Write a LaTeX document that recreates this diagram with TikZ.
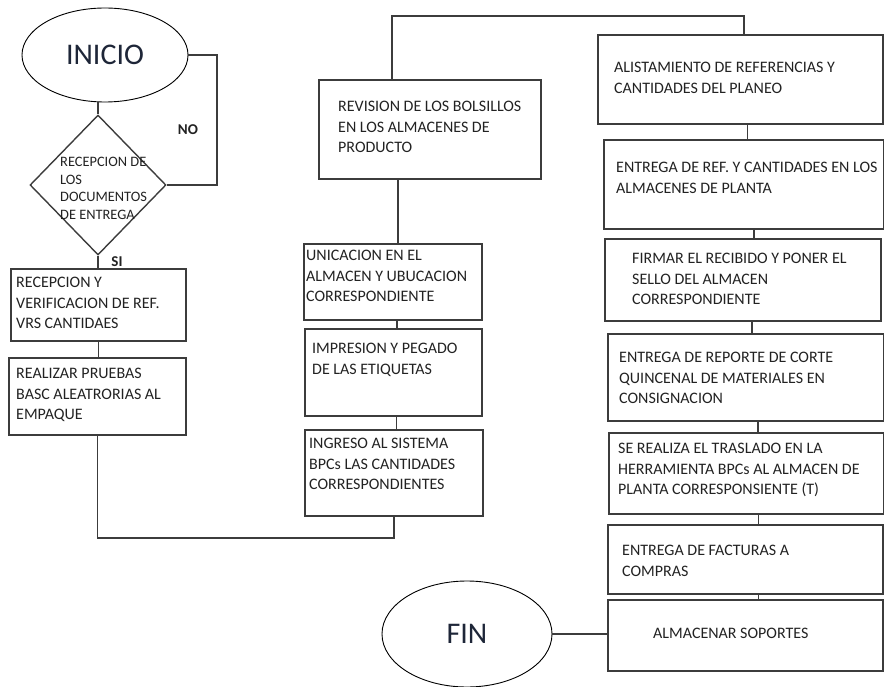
\documentclass[tikz,border=0pt]{standalone}
\usepackage{fontspec}
\setmainfont{Carlito}
\usetikzlibrary{shapes.geometric,positioning}
\definecolor{linea}{HTML}{3C3C3C}
\definecolor{texto}{HTML}{222222}
\definecolor{titulo}{HTML}{1E2638}

\begin{document}
\begin{tikzpicture}[
    x=1pt, y=-1pt,
    caja/.style={draw=linea, line width=1.6pt, anchor=north west, inner sep=0pt},
    txt/.style={anchor=north west, align=left, inner sep=0pt, text=texto,
      font=\fontsize{16}{20.5}\selectfont},
    terminal/.style={ellipse, draw=black, line width=0.9pt, inner sep=0pt,
      text=titulo, font=\fontsize{30}{30}\selectfont},
    flujo/.style={draw=linea, line width=1.6pt},
    etq/.style={text=texto, font=\fontsize{15}{15}\selectfont\bfseries, inner sep=0pt}
  ]
    \useasboundingbox (0,0) rectangle (884,687);
    % Inicio y decision
    \node[terminal, minimum width=166, minimum height=94] (inicio) at (105,55) {INICIO};
    \node[diamond, draw=linea, line width=1.4pt, minimum width=136, minimum height=140,
          inner sep=0pt] (rombo) at (98,185) {};
    \node[txt, font=\fontsize{14.4}{17.7}\selectfont] (rombo-t) at (60,157)
          {RECEPCION DE\\LOS\\DOCUMENTOS\\DE ENTREGA};
    \draw[flujo] (inicio.south -| rombo.north) -- (rombo.north);
    \draw[flujo] (rombo.east) -- ++(50,0) |- (inicio.east);
    \node[etq] (no) at (188,130) {NO};
    \node[etq] (si) at (117,262) {SI};
    % Columna 1
    \node[caja, minimum width=175, minimum height=72] (recep) at (10,268) {};
    \node[txt] (recep-t) at ([shift={(6,9)}]recep.north west)
          {RECEPCION Y\\VERIFICACION DE REF.\\VRS CANTIDAES};
    \draw[flujo] (rombo.south) -- (rombo.south |- recep.north);
    \node[caja, minimum width=177, minimum height=77] (empaque) at (8,357) {};
    \node[txt] (empaque-t) at ([shift={(8,11)}]empaque.north west)
          {REALIZAR PRUEBAS\\BASC ALEATRORIAS AL\\EMPAQUE};
    \draw[flujo] (recep.south) -- (recep.south |- empaque.north);
    % Columna 2
    \node[caja, minimum width=222, minimum height=99] (revision) at (318,79) {};
    \node[txt] (revision-t) at ([shift={(20,22)}]revision.north west)
          {REVISION DE LOS BOLSILLOS\\EN LOS ALMACENES DE\\PRODUCTO};
    \node[caja, minimum width=178, minimum height=76] (ubic) at (303,243) {};
    \node[txt] (ubic-t) at ([shift={(3,7)}]ubic.north west)
          {UNICACION EN EL\\ALMACEN Y UBUCACION\\CORRESPONDIENTE};
    \draw[flujo] ([xshift=-32pt]revision.south) -- ([xshift=-32pt]revision.south |- ubic.north);
    \node[caja, minimum width=177, minimum height=87] (impr) at (304,328) {};
    \node[txt] (impr-t) at ([shift={(8,15)}]impr.north west)
          {IMPRESION Y PEGADO\\DE LAS ETIQUETAS};
    \draw[flujo] ([xshift=4pt]ubic.south) -- ([xshift=4pt]ubic.south |- impr.north);
    \node[caja, minimum width=178, minimum height=86] (ingreso) at (304,429) {};
    \node[txt] (ingreso-t) at ([shift={(5,9)}]ingreso.north west)
          {INGRESO AL SISTEMA\\BPCs LAS CANTIDADES\\CORRESPONDIENTES};
    \draw[flujo] ([xshift=3pt]impr.south) -- ([xshift=3pt]impr.south |- ingreso.north);
    % Enlace columna 1 - columna 2
    \coordinate (abajo) at (0,538);
    \draw[flujo] (empaque.south) |- (abajo -| ingreso.south) -- (ingreso.south);
    % Columna 3
    \node[caja, minimum width=285, minimum height=89] (alist) at (597,34) {};
    \node[txt] (alist-t) at ([shift={(17,28)}]alist.north west)
          {ALISTAMIENTO DE REFERENCIAS Y\\CANTIDADES DEL PLANEO};
    \coordinate (arriba) at (744,16);
    \draw[flujo] ([xshift=-38pt]revision.north) |- (arriba) -- (arriba |- alist.north);
    \node[caja, minimum width=280, minimum height=89] (entref) at (603,139) {};
    \node[txt] (entref-t) at ([shift={(13,23)}]entref.north west)
          {ENTREGA DE REF. Y CANTIDADES EN LOS\\ALMACENES DE PLANTA};
    \draw[flujo] ([xshift=7pt]alist.south) -- ([xshift=7pt]alist.south |- entref.north);
    \node[caja, minimum width=276, minimum height=82] (firmar) at (604,238) {};
    \node[txt] (firmar-t) at ([shift={(28,15)}]firmar.north west)
          {FIRMAR EL RECIBIDO Y PONER EL\\SELLO DEL ALMACEN\\CORRESPONDIENTE};
    \draw[flujo] ([xshift=10pt]entref.south) -- ([xshift=10pt]entref.south |- firmar.north);
    \node[caja, minimum width=276, minimum height=87] (reporte) at (607,333) {};
    \node[txt] (reporte-t) at ([shift={(12,19)}]reporte.north west)
          {ENTREGA DE REPORTE DE CORTE\\QUINCENAL DE MATERIALES EN\\CONSIGNACION};
    \draw[flujo] ([xshift=9pt]firmar.south) -- ([xshift=9pt]firmar.south |- reporte.north);
    \node[caja, minimum width=275, minimum height=81] (traslado) at (608,432) {};
    \node[txt] (traslado-t) at ([shift={(10,11)}]traslado.north west)
          {SE REALIZA EL TRASLADO EN LA\\HERRAMIENTA BPCs AL ALMACEN DE\\PLANTA CORRESPONSIENTE (T)};
    \draw[flujo] ([xshift=12pt]reporte.south) -- ([xshift=12pt]reporte.south |- traslado.north);
    \node[caja, minimum width=275, minimum height=69] (facturas) at (607,524) {};
    \node[txt] (facturas-t) at ([shift={(15,21)}]facturas.north west)
          {ENTREGA DE FACTURAS A\\COMPRAS};
    \draw[flujo] ([xshift=12pt]traslado.south) -- ([xshift=12pt]traslado.south |- facturas.north);
    \node[caja, minimum width=275, minimum height=71] (almacenar) at (607,599) {};
    \node[txt] (almacenar-t) at ([shift={(46,29)}]almacenar.north west)
          {ALMACENAR SOPORTES};
    \draw[flujo] ([xshift=13pt]facturas.south) -- ([xshift=13pt]facturas.south |- almacenar.north);
    % Fin
    \node[terminal, minimum width=170, minimum height=106] (fin) at (467,634) {FIN};
    \draw[flujo] (fin.east) -- (fin.east -| almacenar.west);
\end{tikzpicture}
\end{document}
